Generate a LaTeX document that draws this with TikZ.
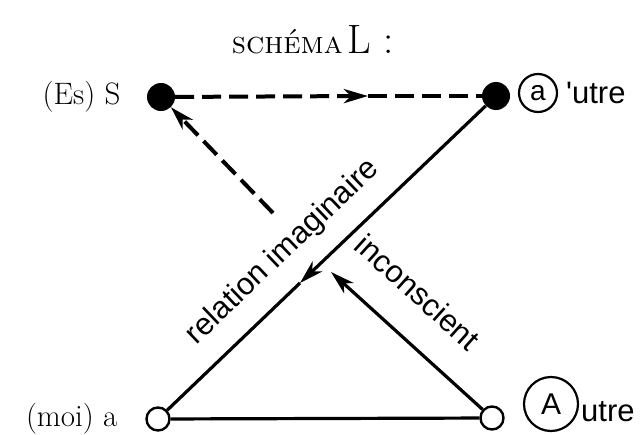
\documentclass[tikz,border=0pt]{standalone}
\usepackage{fontspec}
\newfontfamily\lab{Liberation Sans}
\usetikzlibrary{arrows.meta}
\begin{document}
\begin{tikzpicture}[x=1pt,y=-1pt,
  dot/.style={circle,fill=black,inner sep=0pt,minimum size=28pt},
  odot/.style={circle,draw=black,line width=2.4pt,fill=white,inner sep=0pt,minimum size=23pt},
  ring/.style={circle,draw=black,line width=2.2pt,inner sep=0pt},
  solidline/.style={line width=3.2pt},
  dashline/.style={line width=4pt,dash pattern=on 19pt off 8pt},
  tip/.style={-{Stealth[length=24pt,width=14pt,inset=7pt]}},
  lbl/.style={font=\lab\fontsize{31}{31}\selectfont},
  side/.style={font=\fontsize{31}{31}\selectfont}]
\useasboundingbox (0,0) rectangle (642,434);
% title
\node (title) at (313,40) {\fontsize{31}{31}\selectfont\textsc{schéma}\,\fontsize{41}{41}\selectfont L :};
% points
\node[dot] (S) at (161,97) {};
\node[dot] (ap) at (496,96) {};
\node[odot] (a) at (158,419) {};
\node[odot] (A) at (492,418) {};
% side labels
\node[side, anchor=east] (Slab) at (124,97) {(Es) S};
\node[side, anchor=east] (alab) at (121,419) {(moi) a};
\node[ring, minimum size=38pt, font=\lab\fontsize{28}{28}\selectfont] (apc) at (538,93) {a};
\node[lbl, anchor=west, inner sep=0pt] (aplab) at (566,93) {'utre};
\node[ring, minimum size=54pt, font=\lab\fontsize{30}{30}\selectfont] (Ac) at (551,404) {A};
\node[lbl, anchor=west, inner sep=0pt] (Alab) at (581,412) {utre};
% helper coordinates
\coordinate (m1) at (368,96);
\coordinate (m2) at (300,283);
\coordinate (i1) at (331,272);
\coordinate (i2) at (273,213);
% connectors
\draw[dashline,tip] (S) -- (m1);
\draw[dashline] (m1) -- (ap);
\draw[solidline,tip] (ap) -- (m2);
\draw[solidline] (m2) -- (a);
\draw[solidline] (A) -- (a);
\draw[solidline,tip] (A) -- (i1);
\draw[dashline,tip] (i2) -- (S);
% diagonal labels
\node[lbl, rotate=43.6] (rel) at (283,252) {relation imaginaire};
\node[lbl, rotate=-42] (inc) at (418,292) {inconscient};
\end{tikzpicture}
\end{document}
